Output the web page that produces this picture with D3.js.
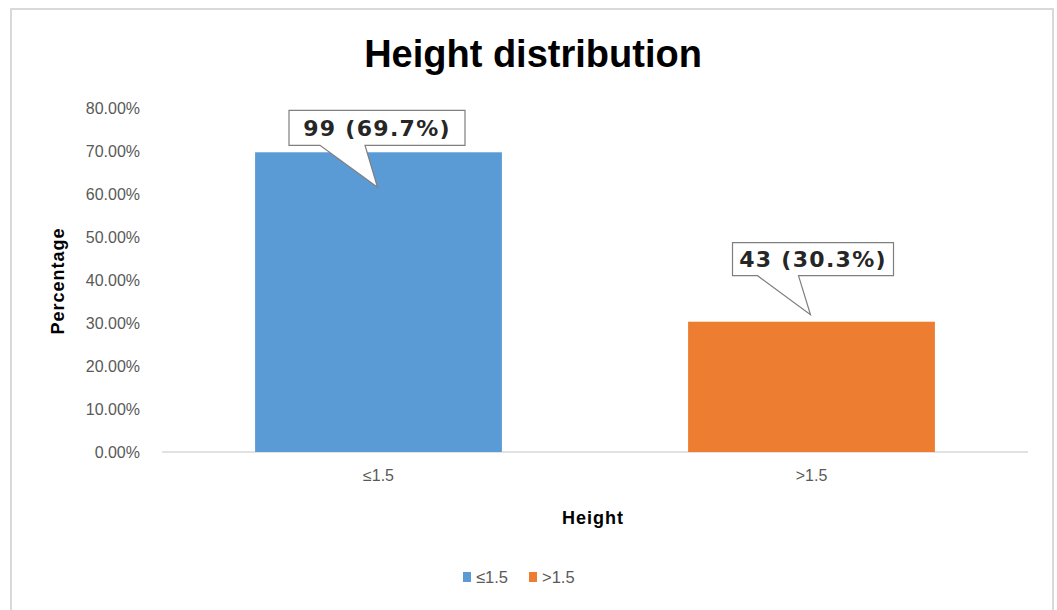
<!DOCTYPE html>
<html>
<head>
<meta charset="utf-8">
<script src="https://cdn.jsdelivr.net/npm/d3@7"></script>
<style>
  html, body { margin: 0; padding: 0; background: #fff; }
  svg { display: block; }
  .tick text { font-family: "Liberation Sans", Arial, sans-serif; }
</style>
</head>
<body>
<svg id="chart" width="1057" height="610"></svg>
<script>
// Height groups and their share of the sample
const categories = ["≤1.5", ">1.5"];
const counts = [99, 43];
const percentages = [69.7, 30.3];
const yTicks = [0, 10, 20, 30, 40, 50, 60, 70, 80];
const colors = ["#5B9BD5", "#ED7D31"];

const svg = d3.select("#chart");

// outer chart frame
svg.append("rect")
  .attr("x", 11).attr("y", 9)
  .attr("width", 1042).attr("height", 620)
  .attr("fill", "#fff")
  .attr("stroke", "#d9d9d9").attr("stroke-width", 2);

const plot = { left: 162, right: 1028, top: 108, bottom: 452 };

const x = d3.scaleBand()
  .domain(categories)
  .range([plot.left, plot.right])
  .paddingInner(0.43)
  .paddingOuter(0.215);

const y = d3.scaleLinear()
  .domain([0, 80])
  .range([plot.bottom, plot.top]);

// title
svg.append("text")
  .attr("x", 533).attr("y", 67)
  .attr("text-anchor", "middle")
  .attr("font-family", "'Liberation Sans', Arial, sans-serif")
  .attr("font-weight", "bold")
  .attr("font-size", 38)
  .attr("fill", "#000")
  .text("Height distribution");

// y axis labels (no axis line)
const yAxis = d3.axisLeft(y)
  .tickValues(yTicks)
  .tickSize(0)
  .tickPadding(0)
  .tickFormat(d => d3.format(".2f")(d) + "%");

const gy = svg.append("g")
  .attr("transform", `translate(140,0)`)
  .call(yAxis);
gy.select(".domain").remove();
gy.selectAll("text")
  .attr("fill", "#595959")
  .attr("font-size", 16);

// x baseline
svg.append("line")
  .attr("x1", plot.left).attr("x2", plot.right)
  .attr("y1", y(0)).attr("y2", y(0))
  .attr("stroke", "#d9d9d9").attr("stroke-width", 1.5);

// bars
svg.selectAll("rect.bar")
  .data(categories)
  .join("rect")
  .attr("class", "bar")
  .attr("x", d => x(d))
  .attr("width", x.bandwidth())
  .attr("y", (d, i) => y(percentages[i]))
  .attr("height", (d, i) => y(0) - y(percentages[i]))
  .attr("fill", (d, i) => colors[i]);

// category labels
const xAxis = d3.axisBottom(x).tickSize(0).tickPadding(0);
const gx = svg.append("g")
  .attr("transform", `translate(0,470)`)
  .call(xAxis);
gx.select(".domain").remove();
gx.selectAll("text")
  .attr("fill", "#595959")
  .attr("font-size", 16);

// axis titles
svg.append("text")
  .attr("transform", "translate(64,281) rotate(-90)")
  .attr("text-anchor", "middle")
  .attr("font-family", "'Liberation Sans', Arial, sans-serif")
  .attr("font-weight", "bold")
  .attr("font-size", 18)
  .attr("letter-spacing", 1)
  .attr("fill", "#000")
  .text("Percentage");

svg.append("text")
  .attr("x", 593).attr("y", 524)
  .attr("text-anchor", "middle")
  .attr("font-family", "'Liberation Sans', Arial, sans-serif")
  .attr("font-weight", "bold")
  .attr("font-size", 18)
  .attr("letter-spacing", 1)
  .attr("fill", "#000")
  .text("Height");

// callout value labels: box and pointer placed relative to the bar top
const calloutLayout = [
  { boxDx: -89.5, boxDy: -42, boxW: 176, boxH: 35, baseL: 31, baseR: 76, tipDx: -1, tipDy: 35 },
  { boxDx: -79, boxDy: -79, boxW: 161, boxH: 33, baseL: 25, baseR: 66, tipDx: -1, tipDy: -7 }
];

categories.forEach((c, i) => {
  const cx = x(c) + x.bandwidth() / 2;
  const top = y(percentages[i]);
  const L = calloutLayout[i];
  const bx = cx + L.boxDx, by = top + L.boxDy;
  const bottom = by + L.boxH;
  const tipX = cx + L.tipDx, tipY = top + L.tipDy;
  const path = [
    [bx, by], [bx + L.boxW, by], [bx + L.boxW, bottom],
    [bx + L.baseR, bottom], [tipX, tipY], [bx + L.baseL, bottom],
    [bx, bottom]
  ];
  svg.append("path")
    .attr("d", d3.line()(path) + "Z")
    .attr("fill", "#fff")
    .attr("stroke", "#7f7f7f")
    .attr("stroke-width", 1.2)
    .attr("stroke-linejoin", "miter");
  svg.append("text")
    .attr("x", bx + L.boxW / 2)
    .attr("y", by + L.boxH / 2 + 8)
    .attr("text-anchor", "middle")
    .attr("font-family", "'DejaVu Sans', Verdana, sans-serif")
    .attr("font-weight", "bold")
    .attr("font-size", 22)
    .attr("letter-spacing", 1.3)
    .attr("fill", "#262626")
    .text(`${counts[i]} (${percentages[i]}%)`);
});

// legend
const legendItems = [
  { x: 463, label: categories[0], color: colors[0] },
  { x: 529, label: categories[1], color: colors[1] }
];
const lg = svg.append("g");
legendItems.forEach(it => {
  lg.append("rect")
    .attr("x", it.x).attr("y", 572)
    .attr("width", 8).attr("height", 10)
    .attr("fill", it.color);
  lg.append("text")
    .attr("x", it.x + 13).attr("y", 583)
    .attr("font-family", "'Liberation Sans', Arial, sans-serif")
    .attr("font-size", 16.5)
    .attr("fill", "#595959")
    .text(it.label);
});
</script>
</body>
</html>
